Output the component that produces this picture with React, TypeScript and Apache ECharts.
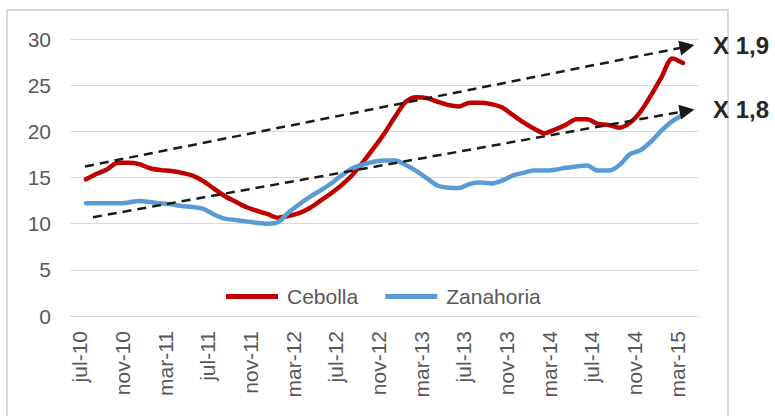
import React, { useEffect, useRef } from "react";
import * as echarts from "echarts";

const months: string[] = [
  "jul-10", "ago-10", "sep-10", "oct-10", "nov-10", "dic-10",
  "ene-11", "feb-11", "mar-11", "abr-11", "may-11", "jun-11",
  "jul-11", "ago-11", "sep-11", "oct-11", "nov-11", "dic-11",
  "ene-12", "feb-12", "mar-12", "abr-12", "may-12", "jun-12",
  "jul-12", "ago-12", "sep-12", "oct-12", "nov-12", "dic-12",
  "ene-13", "feb-13", "mar-13", "abr-13", "may-13", "jun-13",
  "jul-13", "ago-13", "sep-13", "oct-13", "nov-13", "dic-13",
  "ene-14", "feb-14", "mar-14", "abr-14", "may-14", "jun-14",
  "jul-14", "ago-14", "sep-14", "oct-14", "nov-14", "dic-14",
  "ene-15", "feb-15", "mar-15",
];

const cebolla: number[] = [
  14.8, 15.4, 15.9, 16.6, 16.6, 16.45, 16.0, 15.8, 15.7, 15.5, 15.2, 14.6,
  13.8, 13.0, 12.4, 11.8, 11.4, 11.05, 10.65, 10.85, 11.15, 11.7, 12.5, 13.3,
  14.2, 15.3, 16.7, 18.2, 19.8, 21.6, 23.2, 23.7, 23.6, 23.2, 22.85, 22.7,
  23.1, 23.1, 22.95, 22.6, 21.8, 21.0, 20.3, 19.8, 20.2, 20.7, 21.3, 21.3,
  20.8, 20.7, 20.4, 20.9, 22.1, 23.9, 25.9, 27.9, 27.4,
];

const zanahoria: number[] = [
  12.2, 12.2, 12.2, 12.2, 12.3, 12.45, 12.35, 12.2, 12.1, 11.9, 11.8, 11.6,
  11.0, 10.55, 10.4, 10.25, 10.1, 10.0, 10.15, 11.2, 12.1, 12.9, 13.6, 14.35,
  15.25, 16.0, 16.4, 16.7, 16.85, 16.85, 16.35, 15.7, 14.9, 14.1, 13.9, 13.85,
  14.3, 14.45, 14.35, 14.65, 15.2, 15.5, 15.75, 15.75, 15.85, 16.05, 16.2, 16.3,
  15.75, 15.75, 16.3, 17.5, 17.95, 18.9, 20.1, 21.1, 21.8,
];

// trend arrows: [monthIndex, value] start and end
const trendUpper: number[][] = [[-0.09, 16.2], [56.38, 29.18]];
const trendLower: number[][] = [[0.66, 10.7], [56.38, 22.23]];
const trendLabels: string[] = ["X 1,9", "X 1,8"];

const yTicks = { min: 0, max: 30, interval: 5 };

const FONT = '"Liberation Sans", Arial, sans-serif';

export default function App() {
  const ref = useRef<HTMLDivElement>(null);

  useEffect(() => {
    if (!ref.current) return;
    const chart = echarts.init(ref.current, null, { renderer: "svg" });
    const cats = ["", ...months, ""];
    const pad = (arr: number[]) => [null, ...arr, null];

    const trendSeries = (name: string, pts: number[][]) => ({
      name,
      type: "line",
      xAxisIndex: 1,
      data: pts,
      showSymbol: false,
      symbol: "none",
      silent: true,
      lineStyle: { opacity: 0, width: 0 },
      markLine: {
        silent: true,
        symbol: ["none", "triangle"],
        symbolSize: 15,
        label: { show: false },
        lineStyle: { type: [9, 6], width: 2.5, color: "#1a1a1a" },
        emphasis: { disabled: true },
        data: [[{ coord: pts[0] }, { coord: pts[1] }]],
      },
      z: 1,
    });

    chart.setOption({
      animation: false,
      backgroundColor: "#ffffff",
      textStyle: { fontFamily: FONT },
      grid: [
        { left: 70, right: 76, top: 39, bottom: 100 },
        { left: 64, right: 82, top: 39, bottom: 100 },
      ],
      xAxis: [
        {
          type: "category",
          data: cats,
          boundaryGap: true,
          axisLine: { lineStyle: { color: "#d9d9d9", width: 1 } },
          axisTick: { show: false },
          splitLine: { show: false },
          axisLabel: { show: false },
        },
        { type: "value", min: -1.5, max: 57.5, show: false },
        {
          type: "category",
          gridIndex: 1,
          data: cats,
          boundaryGap: true,
          axisLine: { show: false },
          axisTick: { show: false },
          splitLine: { show: false },
          axisLabel: {
            interval: (index: number) => index >= 1 && (index - 1) % 4 === 0,
            rotate: 90,
            margin: 15,
            fontSize: 21,
            color: "#595959",
            fontFamily: FONT,
          },
        },
      ],
      yAxis: [
        {
          type: "value",
          min: yTicks.min,
          max: yTicks.max,
          interval: yTicks.interval,
          axisLine: { show: false },
          axisTick: { show: false },
          splitLine: { lineStyle: { color: "#d9d9d9", width: 1 } },
          axisLabel: { fontSize: 21, color: "#595959", margin: 19, fontFamily: FONT },
        },
        {
          type: "value",
          gridIndex: 1,
          min: yTicks.min,
          max: yTicks.max,
          interval: yTicks.interval,
          show: false,
        },
      ],
      legend: {
        data: ["Cebolla", "Zanahoria"],
        left: 221,
        top: 281,
        icon: "rect",
        itemWidth: 52,
        itemHeight: 5,
        itemGap: 27,
        textStyle: { fontSize: 21, color: "#595959", fontFamily: FONT, padding: [0, 0, 0, 4] },
      },
      series: [
        {
          name: "Cebolla",
          type: "line",
          data: pad(cebolla),
          smooth: 0.3,
          showSymbol: false,
          symbol: "none",
          lineStyle: { color: "#C00000", width: 4.5, cap: "round" },
          itemStyle: { color: "#C00000" },
          z: 2,
        },
        {
          name: "Zanahoria",
          type: "line",
          data: pad(zanahoria),
          smooth: 0.3,
          showSymbol: false,
          symbol: "none",
          lineStyle: { color: "#5B9BD5", width: 4.5, cap: "round" },
          itemStyle: { color: "#5B9BD5" },
          z: 3,
        },
        trendSeries("trendUpper", trendUpper),
        trendSeries("trendLower", trendLower),
      ],
      graphic: [
        {
          type: "rect",
          shape: { x: 7, y: 10, width: 721, height: 420 },
          style: { fill: "none", stroke: "#d9d9d9", lineWidth: 2 },
          silent: true,
        },
        {
          type: "text",
          x: 713,
          y: 45,
          style: {
            text: trendLabels[0],
            font: `bold 24px ${FONT}`,
            fill: "#262626",
            verticalAlign: "middle",
          },
        },
        {
          type: "text",
          x: 713,
          y: 109,
          style: {
            text: trendLabels[1],
            font: `bold 24px ${FONT}`,
            fill: "#262626",
            verticalAlign: "middle",
          },
        },
      ],
    });
    return () => chart.dispose();
  }, []);

  return (
    <div
      ref={ref}
      style={{ position: "absolute", left: 0, top: 0, width: 775, height: 416, background: "#fff" }}
    />
  );
}
